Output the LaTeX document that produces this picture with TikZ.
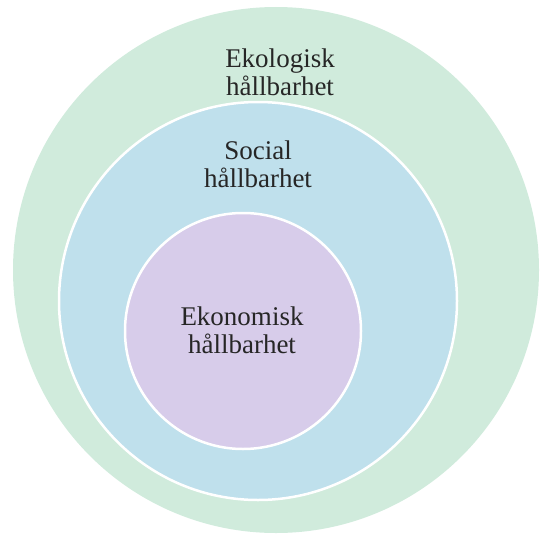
\documentclass[tikz,border=0pt]{standalone}
\usepackage{fontspec}
\setmainfont{Liberation Serif}
\usepackage{tikz}
\usetikzlibrary{positioning}
\definecolor{ecoColor}{RGB}{208, 235, 220}
\definecolor{socColor}{RGB}{191, 224, 236}
\definecolor{econColor}{RGB}{215, 204, 234}

\begin{document}
\begin{tikzpicture}[x=1pt, y=-1pt]
    \tikzset{
        ring/.style={draw=white, line width=2.5pt},
        lbl/.style={align=center, inner sep=0pt, font=\fontsize{27}{28}\selectfont, text=black!85}
    }
    \useasboundingbox (0,0) rectangle (539,543);

    % Circles
    \fill[ecoColor] (276,270) circle (263);
    \filldraw[socColor, ring] (258,301) circle (199);
    \filldraw[econColor, ring] (243,331) circle (118);

    % Labels
    \node[lbl] (eco) at (280,72) {Ekologisk\\hållbarhet};
    \node[lbl] (soc) at (258,164) {Social\\hållbarhet};
    \node[lbl] (econ) at (242,330) {Ekonomisk\\hållbarhet};

\end{tikzpicture}
\end{document}
